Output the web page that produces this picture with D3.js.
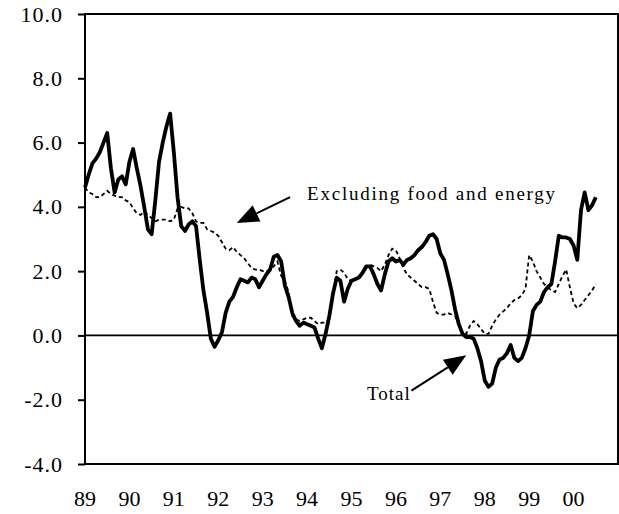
<!DOCTYPE html>
<html>
<head>
<meta charset="utf-8">
<script src="https://cdn.jsdelivr.net/npm/d3@7"></script>
<style>
  body { margin: 0; background: #fff; }
  text { font-family: "Liberation Serif", "Times New Roman", serif; fill: #000; }
</style>
</head>
<body>
<svg id="chart" width="619" height="514"></svg>
<script>
// Year labels, one per January (month index 0 = Jan 1989)
const yearLabels = ["89", "90", "91", "92", "93", "94", "95", "96", "97", "98", "99", "00"];
const yTicks = [-4, -2, 0, 2, 4, 6, 8, 10];

// Monthly values, Jan 1989 .. Jul 2000
const total = [
  4.6, 5.0, 5.35, 5.5, 5.7, 6.0, 6.3, 5.2, 4.45, 4.85, 4.95, 4.7,
  5.4, 5.8, 5.2, 4.65, 4.0, 3.3, 3.15, 4.2, 5.4, 6.0, 6.5, 6.9,
  5.7, 4.3, 3.4, 3.25, 3.45, 3.55, 3.4, 2.35, 1.4, 0.7, -0.1, -0.35,
  -0.15, 0.1, 0.7, 1.05, 1.2, 1.5, 1.75, 1.7, 1.65, 1.8, 1.75, 1.5,
  1.7, 1.9, 2.05, 2.45, 2.5, 2.3, 1.55, 1.2, 0.7, 0.45, 0.3, 0.4,
  0.35, 0.3, 0.25, -0.1, -0.4, 0.05, 0.6, 1.3, 1.8, 1.7, 1.05, 1.45,
  1.7, 1.75, 1.8, 1.95, 2.15, 2.15, 1.9, 1.6, 1.4, 1.9, 2.3, 2.4,
  2.3, 2.35, 2.2, 2.35, 2.4, 2.5, 2.65, 2.75, 2.9, 3.1, 3.15, 3.0,
  2.55, 2.35, 1.9, 1.4, 0.8, 0.35, 0.05, -0.05, -0.05, -0.1, -0.4, -0.8,
  -1.4, -1.6, -1.5, -1.0, -0.75, -0.7, -0.55, -0.3, -0.7, -0.8, -0.7, -0.4,
  0.0, 0.75, 0.95, 1.05, 1.35, 1.5, 1.6, 2.3, 3.1, 3.05, 3.05, 3.0,
  2.8, 2.35, 3.9, 4.45, 3.9, 4.05, 4.3
];
const core = [
  4.6, 4.45, 4.4, 4.3, 4.3, 4.4, 4.5, 4.4, 4.35, 4.3, 4.3, 4.2,
  4.15, 3.95, 3.8, 3.75, 3.85, 3.75, 3.65, 3.55, 3.6, 3.6, 3.6, 3.55,
  3.6, 3.95, 4.0, 3.95, 3.95, 3.8, 3.55, 3.5, 3.5, 3.3, 3.25, 3.2,
  3.1, 2.9, 2.7, 2.65, 2.75, 2.6, 2.5, 2.4, 2.25, 2.1, 2.05, 2.05,
  2.0, 2.0, 2.05, 2.15, 2.3, 1.85, 1.7, 1.35, 0.6, 0.5, 0.45, 0.5,
  0.55, 0.55, 0.45, 0.35, 0.4, 0.4, 0.5, 1.2, 2.0, 2.05, 1.95, 1.75,
  1.7, 1.75, 1.8, 1.95, 2.1, 2.2, 2.15, 2.1, 2.0, 2.2, 2.5, 2.7,
  2.65, 2.4, 2.1, 1.9, 1.8, 1.7, 1.6, 1.5, 1.5, 1.45, 1.05, 0.7,
  0.65, 0.65, 0.7, 0.65, 0.6, 0.35, 0.1, 0.05, 0.3, 0.45, 0.35, 0.2,
  0.05, 0.05, 0.3, 0.5, 0.65, 0.75, 0.85, 1.0, 1.1, 1.15, 1.25, 1.45,
  2.5, 2.3, 2.0, 1.8, 1.6, 1.5, 1.4, 1.35, 1.6, 1.85, 2.05, 1.5,
  1.0, 0.85, 0.95, 1.1, 1.25, 1.4, 1.6
];

// Annotations in data units: [month, value]
const coreNote = { text: "Excluding food and energy", at: [60, 4.22], from: [55.4, 4.3], tip: [41, 3.5] };
const totalNote = { text: "Total", at: [88, -2.0], from: [88.2, -1.72], tip: [103, -0.62] };

const svg = d3.select("#chart");
const plotLeft = 85, plotRight = 618, plotTop = 14, plotBottom = 464;

const x = d3.scaleLinear().domain([0, 144]).range([plotLeft, plotRight]);
const y = d3.scaleLinear().domain([-4, 10]).range([plotBottom, plotTop]);

// Left axis with outward ticks, plain hyphen for negatives
const yAxis = svg.append("g")
  .attr("transform", "translate(" + plotLeft + ",0)")
  .call(d3.axisLeft(y).tickValues(yTicks).tickSize(7).tickPadding(15).tickFormat(d => d.toFixed(1)));
yAxis.select(".domain").remove();
yAxis.selectAll(".tick line").attr("stroke", "#000").attr("stroke-width", 2);
yAxis.selectAll(".tick text")
  .attr("font-size", 22)
  .attr("letter-spacing", 1)
  .attr("font-family", "Liberation Serif, serif");

// Plot frame
svg.append("rect")
  .attr("x", plotLeft).attr("y", plotTop)
  .attr("width", plotRight - plotLeft).attr("height", plotBottom - plotTop)
  .attr("fill", "none").attr("stroke", "#000").attr("stroke-width", 2);

// Zero line
svg.append("line")
  .attr("x1", plotLeft).attr("x2", plotRight)
  .attr("y1", y(0)).attr("y2", y(0))
  .attr("stroke", "#000").attr("stroke-width", 1.8);

// Year labels below the frame
svg.append("g").selectAll("text")
  .data(yearLabels)
  .join("text")
  .attr("x", (d, i) => x(i * 12))
  .attr("y", 506)
  .attr("text-anchor", "middle")
  .attr("font-size", 22)
  .text(d => d);

const line = d3.line()
  .x((d, i) => x(i))
  .y(d => y(d));

svg.append("path")
  .datum(core)
  .attr("d", line)
  .attr("fill", "none")
  .attr("stroke", "#000")
  .attr("stroke-width", 1.8)
  .attr("stroke-dasharray", "4,3");

svg.append("path")
  .datum(total)
  .attr("d", line)
  .attr("fill", "none")
  .attr("stroke", "#000")
  .attr("stroke-width", 3.8)
  .attr("stroke-linejoin", "round");

// Arrow with a filled triangle head
function arrow(note) {
  const x1 = x(note.from[0]), y1 = y(note.from[1]);
  const x2 = x(note.tip[0]), y2 = y(note.tip[1]);
  const len = Math.hypot(x2 - x1, y2 - y1);
  const ux = (x2 - x1) / len, uy = (y2 - y1) / len;
  const headL = 22, headW = 9;
  const bx = x2 - ux * headL, by = y2 - uy * headL;
  svg.append("line")
    .attr("x1", x1).attr("y1", y1).attr("x2", bx).attr("y2", by)
    .attr("stroke", "#000").attr("stroke-width", 2);
  svg.append("polygon")
    .attr("points", [[x2, y2], [bx - uy * headW, by + ux * headW], [bx + uy * headW, by - ux * headW]].join(" "))
    .attr("fill", "#000");
}

arrow(coreNote);
arrow(totalNote);

svg.append("text")
  .attr("x", x(coreNote.at[0]))
  .attr("y", y(coreNote.at[1]))
  .attr("font-size", 19)
  .attr("textLength", 248)
  .attr("lengthAdjust", "spacing")
  .text(coreNote.text);

svg.append("text")
  .attr("x", x(totalNote.at[0]))
  .attr("y", y(totalNote.at[1]))
  .attr("text-anchor", "end")
  .attr("font-size", 19)
  .attr("letter-spacing", 1)
  .text(totalNote.text);
</script>
</body>
</html>
